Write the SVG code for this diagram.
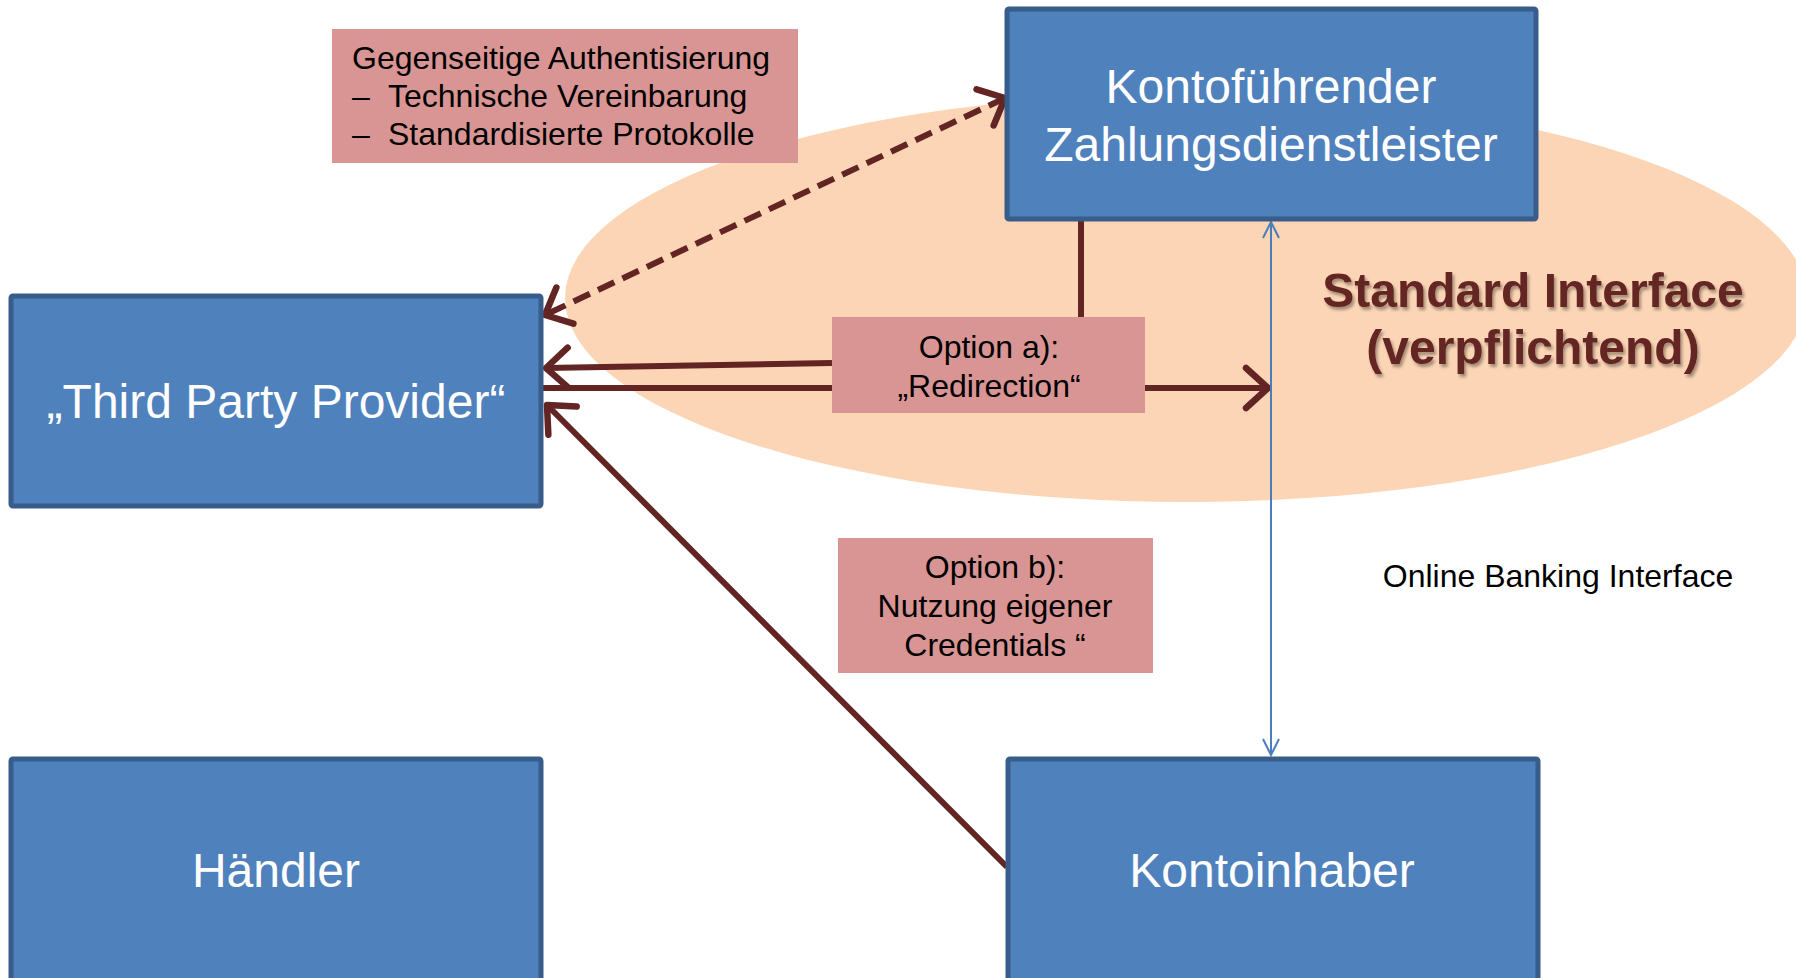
<svg xmlns="http://www.w3.org/2000/svg" width="1796" height="978" viewBox="0 0 1796 978">
<style>
.box{fill:#4F81BD;stroke:#385D8A;stroke-width:5}
.lbl{fill:#D99594}
.wt{font-family:"Liberation Sans",Arial,sans-serif;font-size:48px;fill:#FFFFFF;text-anchor:middle}
.bt{font-family:"Liberation Sans",Arial,sans-serif;font-size:32px;fill:#000000}
.mid{text-anchor:middle}
.conn{fill:none;stroke:#632523;stroke-width:6}
.std{font-family:"Liberation Sans",Arial,sans-serif;font-size:48px;font-weight:bold;fill:#632523;text-anchor:middle}
</style>
<defs>
<marker id="ch" viewBox="0 0 30 48" refX="26" refY="24" markerWidth="30" markerHeight="48" markerUnits="userSpaceOnUse" orient="auto-start-reverse">
<path d="M4,4 L26,24 L4,44" fill="none" stroke="#632523" stroke-width="6.5" stroke-linecap="round" stroke-linejoin="round"/>
</marker>
<marker id="bl" viewBox="0 0 20 20" refX="18" refY="10" markerWidth="20" markerHeight="20" markerUnits="userSpaceOnUse" orient="auto-start-reverse">
<path d="M2,2 L18,10 L2,18" fill="none" stroke="#4A7EBB" stroke-width="2"/>
</marker>
<filter id="sh" x="-10%" y="-20%" width="120%" height="140%">
<feDropShadow dx="2" dy="3" stdDeviation="1.5" flood-color="#000000" flood-opacity="0.35"/>
</filter>
</defs>
<rect width="1796" height="978" fill="#FFFFFF"/>
<g id="standard-interface">
<ellipse cx="1186" cy="298" rx="621" ry="204" fill="#FBD5B5"/>
<text class="std" filter="url(#sh)" x="1533" y="307">Standard Interface</text>
<text class="std" filter="url(#sh)" x="1533" y="364">(verpflichtend)</text>
</g>
<g id="connectors">
<path class="conn" d="M1005,98 L545,315" stroke-dasharray="18,9" stroke-width="8" marker-start="url(#ch)" marker-end="url(#ch)"/>
<path class="conn" d="M1081,220 L1081,318"/>
<path class="conn" d="M832,363 L546,368" marker-end="url(#ch)"/>
<path class="conn" d="M543,388 L832,388"/>
<path class="conn" d="M1145,388 L1268,388" marker-end="url(#ch)"/>
<path class="conn" d="M1007,867 L547,405" stroke-width="5.5" marker-end="url(#ch)"/>
<path d="M1271,222 L1271,755" fill="none" stroke="#4A7EBB" stroke-width="2" marker-start="url(#bl)" marker-end="url(#bl)"/>
</g>
<g id="tpp">
<rect class="box" x="11" y="296" width="530" height="210" rx="2"/>
<text class="wt" x="276" y="418">„Third Party Provider“</text>
</g>
<g id="kontofuehrender">
<rect class="box" x="1007" y="9" width="529" height="210" rx="2"/>
<text class="wt" x="1271" y="103">Kontoführender</text>
<text class="wt" x="1271" y="161">Zahlungsdienstleister</text>
</g>
<g id="haendler">
<rect class="box" x="11" y="759" width="530" height="230" rx="2"/>
<text class="wt" x="276" y="887">Händler</text>
</g>
<g id="kontoinhaber">
<rect class="box" x="1008" y="759" width="530" height="230" rx="2"/>
<text class="wt" x="1272" y="887">Kontoinhaber</text>
</g>
<g id="label-auth">
<rect class="lbl" x="332" y="29" width="466" height="134"/>
<text class="bt" x="352" y="69">Gegenseitige Authentisierung</text>
<text class="bt" x="352" y="107">–</text>
<text class="bt" x="388" y="107">Technische Vereinbarung</text>
<text class="bt" x="352" y="145">–</text>
<text class="bt" x="388" y="145">Standardisierte Protokolle</text>
</g>
<g id="label-option-a">
<rect class="lbl" x="832" y="317" width="313" height="96"/>
<text class="bt mid" x="989" y="358">Option a):</text>
<text class="bt mid" x="989" y="397">„Redirection“</text>
</g>
<g id="label-option-b">
<rect class="lbl" x="838" y="538" width="315" height="135"/>
<text class="bt mid" x="995" y="578">Option b):</text>
<text class="bt mid" x="995" y="617">Nutzung eigener</text>
<text class="bt mid" x="995" y="656">Credentials “</text>
</g>
<g id="online-banking">
<text class="bt mid" x="1558" y="587">Online Banking Interface</text>
</g>
</svg>
